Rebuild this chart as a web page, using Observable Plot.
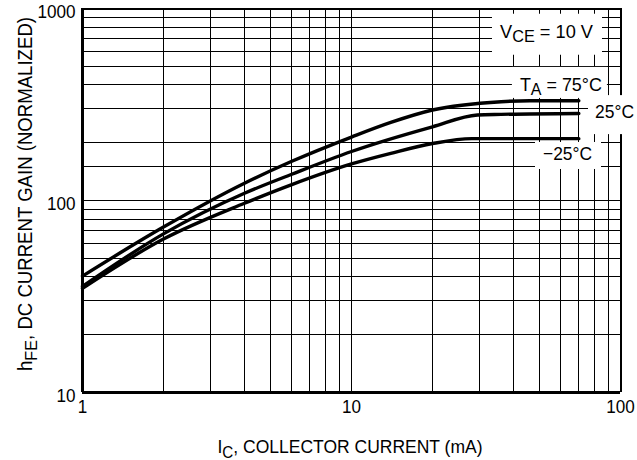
<!DOCTYPE html>
<html><head><meta charset="utf-8">
<script src="https://cdn.jsdelivr.net/npm/d3@7"></script>
<script src="https://cdn.jsdelivr.net/npm/@observablehq/plot@0.6"></script>
<style>
html,body{margin:0;padding:0;background:#fff;}
</style>
</head><body>
<div id="chart"></div>
<script>
// ---- data ----
const xGrid = [1,2,3,4,5,6,7,8,9,10,20,30,40,50,60,70,80,90,100];
const yGrid = [10,20,30,40,50,60,70,80,90,100,150,200,300,400,500,600,700,800,900,1000];
const xTicks = [1,10,100];
const yTicks = [10,100,1000];

const temps = ["75°C","25°C","−25°C"];
const ic75  = [1, 2, 4, 6, 10, 14, 20, 36, 46, 70];
const hfe75 = [40.4, 72.7, 123, 160, 214, 255, 296, 327, 331, 331];
const ic25  = [1, 2, 4, 6, 10, 20, 29.4, 36, 70];
const hfe25 = [35.7, 67, 109, 137, 180, 242, 279, 281, 284];
const icM25  = [1, 2, 4, 6, 10, 14, 20, 28, 70];
const hfeM25 = [34.9, 63, 96.7, 121, 155, 176, 198, 210, 210];

const xTitle = ["I", "C", ", COLLECTOR CURRENT (mA)"];
const yTitle = ["h", "FE", ", DC CURRENT GAIN (NORMALIZED)"];
const notes = [
  {parts: ["V", "CE", " = 10 V"], x: 53.3, y: 700, len: 93, box: [-54.5, -24, 55.5, 17]},
  {parts: ["T", "A", " = 75°C"], x: 60.3, y: 370, len: 82, box: [-49, -24, 46, 7]},
  {parts: ["25°C"], x: 95.4, y: 267, len: 39, box: [-26.5, -23, 30, 16]},
  {parts: ["−25°C"], x: 63.8, y: 161.6, len: 49, box: [-32.5, -18, 33.5, 9]}
];

// ---- table ----
const rows = [];
[[ic75, hfe75], [ic25, hfe25], [icM25, hfeM25]].forEach(([xs, ys], k) => {
  xs.forEach((v, i) => rows.push({ic: v, hfe: ys[i], temp: temps[k]}));
});

const font = "'Liberation Sans', Arial, Helvetica, sans-serif";

const plot = Plot.plot({
  width: 637, height: 460,
  marginLeft: 82, marginRight: 17, marginTop: 8, marginBottom: 68,
  style: {fontFamily: font, fontSize: "19px", color: "#000", background: "#fff", overflow: "visible"},
  x: {type: "log", domain: [1, 100], ticks: xTicks, tickFormat: d => String(d), tickSize: 0, tickPadding: 7, label: null},
  y: {type: "log", domain: [10, 1000], ticks: yTicks, tickFormat: d => String(d), tickSize: 0, tickPadding: 7, label: null},
  marks: [
    Plot.ruleX(xGrid, {stroke: "#000", strokeWidth: 1, shapeRendering: "crispEdges"}),
    Plot.ruleY(yGrid, {stroke: "#000", strokeWidth: 1, shapeRendering: "crispEdges"}),
    Plot.ruleX([100], {stroke: "#000", strokeWidth: 2, shapeRendering: "crispEdges"}),
    Plot.ruleY([1000], {stroke: "#000", strokeWidth: 2, shapeRendering: "crispEdges"}),
    Plot.ruleX([1], {stroke: "#000", strokeWidth: 3, shapeRendering: "crispEdges"}),
    Plot.ruleY([10], {stroke: "#000", strokeWidth: 3, shapeRendering: "crispEdges"}),
    Plot.line(rows, {x: "ic", y: "hfe", z: "temp", stroke: "#000", strokeWidth: 3.4, curve: "monotone-x"})
  ]
});
document.getElementById("chart").append(plot);

// condense the axis tick labels like the narrow face of the original
plot.querySelectorAll("text").forEach(el => {
  const len = el.getComputedTextLength();
  el.setAttribute("textLength", (len * 0.9).toFixed(1));
  el.setAttribute("lengthAdjust", "spacingAndGlyphs");
});
// y tick labels sit a little below their gridlines in the original
plot.querySelectorAll('g[aria-label="y-axis tick label"]').forEach(g => {
  const tr = g.getAttribute("transform") || "";
  g.setAttribute("transform", (tr + " translate(0,3.5)").trim());
});

// ---- annotations with white boxes, positioned through Plot's scales ----
const sx = plot.scale("x"), sy = plot.scale("y");
const svg = d3.select(plot);
const lineG = plot.querySelector('g[aria-label="line"]');
const boxLayer = document.createElementNS("http://www.w3.org/2000/svg", "g");
plot.insertBefore(boxLayer, lineG);
const textLayer = svg.append("g").attr("font-family", font).attr("fill", "#000");

notes.forEach(n => {
  const px = sx.apply(n.x), py = sy.apply(n.y);
  d3.select(boxLayer).append("rect")
    .attr("x", px + n.box[0]).attr("y", py + n.box[1])
    .attr("width", n.box[2] - n.box[0]).attr("height", n.box[3] - n.box[1])
    .attr("fill", "#fff");
  const t = textLayer.append("text").attr("x", px).attr("y", py)
    .attr("text-anchor", "middle").attr("font-size", "19px")
    .attr("textLength", n.len).attr("lengthAdjust", "spacingAndGlyphs");
  if (n.parts.length === 1) {
    t.text(n.parts[0]);
  } else {
    t.append("tspan").text(n.parts[0]);
    t.append("tspan").attr("dy", 4.5).attr("font-size", "17px").text(n.parts[1]);
    t.append("tspan").attr("dy", -4.5).text(n.parts[2]);
  }
});

// ---- axis titles ----
const xt = textLayer.append("text").attr("x", 350).attr("y", 452.5)
  .attr("text-anchor", "middle").attr("font-size", "19px")
  .attr("textLength", 265).attr("lengthAdjust", "spacingAndGlyphs");
xt.append("tspan").text(xTitle[0]);
xt.append("tspan").attr("dy", 5).attr("font-size", "16.5px").text(xTitle[1]);
xt.append("tspan").attr("dy", -5).text(xTitle[2]);

const yt = textLayer.append("text").attr("transform", "translate(32,194) rotate(-90)")
  .attr("text-anchor", "middle").attr("font-size", "19.5px")
  .attr("textLength", 354).attr("lengthAdjust", "spacingAndGlyphs");
yt.append("tspan").text(yTitle[0]);
yt.append("tspan").attr("dy", 5).attr("font-size", "17px").text(yTitle[1]);
yt.append("tspan").attr("dy", -5).text(yTitle[2]);
</script>
</body></html>
